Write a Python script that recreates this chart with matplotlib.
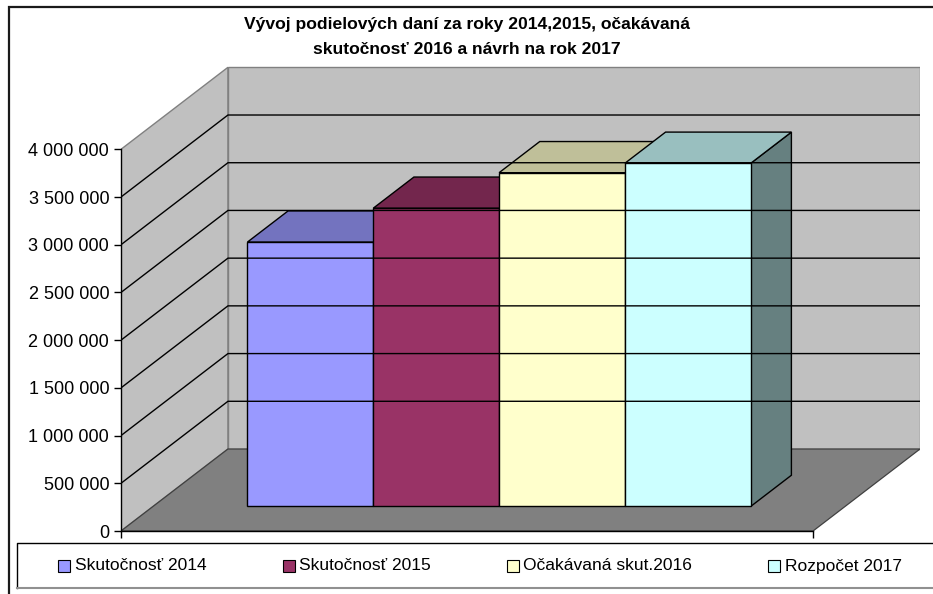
import matplotlib.pyplot as plt
from matplotlib.patches import Polygon, Rectangle
from matplotlib.ticker import FuncFormatter

plt.rcParams['font.family'] = ['Liberation Sans', 'DejaVu Sans']

# --- data -------------------------------------------------------------
title = "Vývoj podielových daní za roky 2014,2015, očakávaná\nskutočnosť 2016 a návrh na rok 2017"
series = ["Skutočnosť 2014", "Skutočnosť 2015", "Očakávaná skut.2016", "Rozpočet 2017"]
values = [2770000, 3125000, 3497000, 3596000]
front_colors = ["#9999FF", "#993366", "#FFFFCC", "#CCFFFF"]
top_colors = ["#7373BF", "#73264D", "#BFBF99", "#99BFBF"]
side_colors = ["#4D4D80", "#4D1A33", "#808066", "#668080"]
y_ticks = [0, 500000, 1000000, 1500000, 2000000, 2500000, 3000000, 3500000, 4000000]

# --- 3D-ish projection (oblique, Excel style) -------------------------
W, H = 933, 594
PX_PER_UNIT_Y = 95.425 / 1e6      # pixels per value unit
FLOOR_W = 5.5                      # 4 bars + 1.5 gap
DX = 0.85                          # depth shift in category units
DV = 82 / PX_PER_UNIT_Y            # depth shift in value units
YMAX = max(y_ticks)
YTOP = 4.9e6
D0, D1 = 0.3, 0.68                 # bar front / back depth


def proj(x, v, d):
    return (x + d * DX, v + d * DV)


fig = plt.figure(figsize=(W / 100, H / 100), dpi=100)

# background axes in pixel coords for frame, title, legend
bg = fig.add_axes([0, 0, 1, 1])
bg.set_xlim(0, W)
bg.set_ylim(H, 0)
bg.axis('off')

bg.plot([9.3, 9.3, W + 5], [H + 5, 6.7, 6.7], color='#1a1a1a', lw=1.6, solid_joinstyle='miter')
bg.text(467, 37, title, ha='center', va='center', fontsize=12.6, fontweight='bold',
        linespacing=1.75)

# legend
bg.plot([W + 5, 16.7, 16.7], [543.3, 543.3, 588], color='black', lw=1.0)
bg.plot([16.7, W + 5], [588, 588], color='#909090', lw=1.5)
marker_x = [58, 283, 507, 768]
text_x = [75, 299, 523, 785]
for name, col, mx, tx in zip(series, front_colors, marker_x, text_x):
    bg.add_patch(Rectangle((mx, 560), 12, 12, facecolor=col, edgecolor='black', lw=0.8))
    bg.text(tx, 566, name, ha='left', va='center', fontsize=12.5)

# main axes: x in category units, y in value units
px_left, px_bottom = 121, 531
xmax = FLOOR_W + DX
ax_w = (920 - px_left) / W
ax_h = YTOP * PX_PER_UNIT_Y / H
ax = fig.add_axes([px_left / W, (H - px_bottom) / H, ax_w, ax_h])
ax.set_xlim(0, xmax)
ax.set_ylim(0, YTOP)
ax.patch.set_visible(False)

wall = '#C0C0C0'
edge = '#808080'

# left wall, back wall, floor
ax.add_patch(Polygon([proj(0, 0, 0), proj(0, YMAX, 0), proj(0, YMAX, 1), proj(0, 0, 1)],
                     closed=True, facecolor=wall, edgecolor=edge, lw=1.0))
ax.add_patch(Polygon([proj(0, 0, 1), proj(0, YMAX, 1), proj(FLOOR_W, YMAX, 1), proj(FLOOR_W, 0, 1)],
                     closed=True, facecolor=wall, edgecolor=edge, lw=1.0))
ax.add_patch(Polygon([proj(0, 0, 0), proj(FLOOR_W, 0, 0), proj(FLOOR_W, 0, 1), proj(0, 0, 1)],
                     closed=True, facecolor='#808080', edgecolor='#404040', lw=0.9))

# gridlines on walls
for v in y_ticks[1:-1]:
    a, b, c = proj(0, v, 0), proj(0, v, 1), proj(FLOOR_W, v, 1)
    ax.plot([a[0], b[0], c[0]], [a[1], b[1], c[1]], color='black', lw=1.0)

# bars
for i, (val, fc, tc, sc) in enumerate(zip(values, front_colors, top_colors, side_colors)):
    x0, x1 = 0.75 + i, 1.75 + i
    side = [proj(x1, 0, D0), proj(x1, val, D0), proj(x1, val, D1), proj(x1, 0, D1)]
    top = [proj(x0, val, D0), proj(x1, val, D0), proj(x1, val, D1), proj(x0, val, D1)]
    front = [proj(x0, 0, D0), proj(x1, 0, D0), proj(x1, val, D0), proj(x0, val, D0)]
    for poly, col in ((side, sc), (top, tc), (front, fc)):
        ax.add_patch(Polygon(poly, closed=True, facecolor=col, edgecolor='black', lw=1.0,
                             joinstyle='miter'))

# axes styling
for s in ('top', 'right'):
    ax.spines[s].set_visible(False)
ax.spines['left'].set_bounds(0, YMAX)
ax.spines['bottom'].set_bounds(0, FLOOR_W)
ax.spines['left'].set_linewidth(1.0)
ax.spines['bottom'].set_linewidth(1.0)
ax.set_yticks(y_ticks)
ax.yaxis.set_major_formatter(FuncFormatter(lambda v, p: f"{v:,.0f}".replace(",", " ")))
ax.tick_params(axis='y', direction='out', length=5, width=1.0, pad=3.5, labelsize=13)
ax.set_xticks([0, FLOOR_W])
ax.set_xticklabels([])
ax.tick_params(axis='x', direction='out', length=5, width=1.0)

fig.savefig('out.png', dpi=100)
